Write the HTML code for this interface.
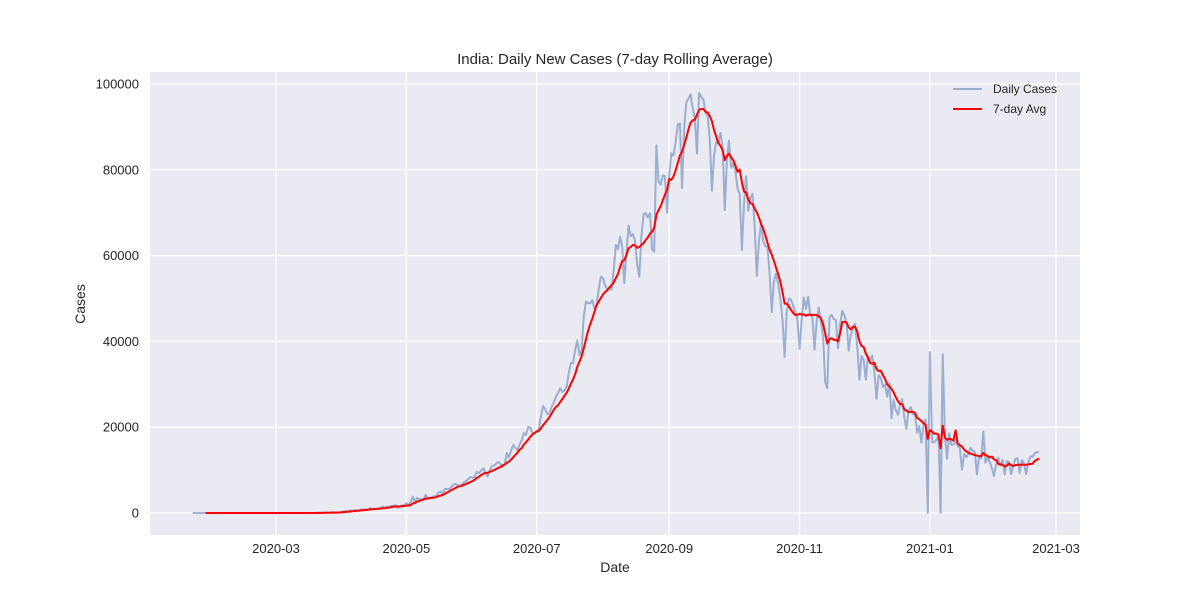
<!DOCTYPE html>
<html><head><meta charset="utf-8"><style>
body{margin:0;background:#fff;}
svg{display:block;font-family:"Liberation Sans","DejaVu Sans",sans-serif;}
</style></head><body>
<svg id="chart" width="1200" height="600">
<rect x="150" y="72" width="930" height="463" fill="#eaeaf2"/>
<g id="grid"></g><g id="series"></g><g id="ticks"></g>
<text x="615" y="64" text-anchor="middle" font-size="15" fill="#262626">India: Daily New Cases (7-day Rolling Average)</text>
<text x="615" y="572" text-anchor="middle" font-size="14" fill="#262626">Date</text>
<text x="85" y="304" text-anchor="middle" font-size="14" fill="#262626" transform="rotate(-90 85 304)">Cases</text>
<g>
<g><line x1="953" y1="89" x2="982" y2="89" stroke="#4c72b0" stroke-opacity="0.5" stroke-width="2"/><text x="993" y="93" font-size="12" fill="#262626">Daily Cases</text></g>
<g><line x1="953" y1="109" x2="982" y2="109" stroke="#ff0000" stroke-width="2"/><text x="993" y="113" font-size="12" fill="#262626">7-day Avg</text></g>
</g>
</svg>
<script>
const startDate = [2020, 0, 22];
const janFeb20 = new Array(39).fill(0);
const mar20 = [0,0,0,0,0,0,0,0,0,0,0,0,0,0,0,0,0,0,0.01,0.02,0.05,0.07,0.05,0.09,0.1,0.07,0.15,0.16,0.1,0.1,0.2];
const apr20 = [0.3,0.4,0.5,0.5,0.6,0.5,0.7,0.5,0.6,0.9,0.8,0.9,0.8,1.2,0.9,1.0,1.0,1.0,1.3,1.5,1.2,1.5,1.4,1.7,1.7,1.8,1.2,1.5,1.8,1.7];
const may20 = [2.3,1.9,2.5,3.8,2.6,3.5,3.3,3.2,3.1,4.2,3.6,3.5,3.7,3.9,3.9,4.8,5.0,4.6,5.6,5.6,5.6,6.0,6.6,6.8,6.5,6.4,6.6,7.2,7.4,8.0,8.4];
const jun20 = [8.2,8.4,9.6,9.3,9.9,10.4,9.5,8.5,9.9,10.9,11.1,11.5,11.9,11.5,10.7,11.4,14.0,12.9,14.5,15.9,15.2,14.7,15.9,17.0,18.6,18.2,20.1,19.9,18.6,18.5];
const jul20 = [19.1,19.5,22.7,24.9,24.2,23.0,23.2,24.8,25.7,27.1,28.0,29.1,28.2,28.5,29.4,32.7,35.0,34.9,38.0,40.2,36.8,37.9,45.6,49.3,48.9,48.9,49.6,47.7,48.5,52.1,55.1];
const aug20 = [54.7,53.0,52.1,52.5,52.0,56.3,62.5,61.5,64.4,62.1,53.6,61.0,67.0,64.5,65.0,63.5,57.9,55.1,64.5,69.7,69.9,68.9,69.9,61.4,60.9,85.7,77.3,76.5,78.7,78.5,70.0];
const sep20 = [78.4,83.9,83.3,86.4,90.6,90.8,75.8,89.7,95.7,96.6,97.6,94.4,92.1,83.8,97.9,97.0,96.4,93.3,92.6,86.9,75.1,83.3,86.5,86.1,88.6,85.4,70.6,82.2,86.8,80.5];
const oct20 = [81.5,79.5,75.6,74.4,61.3,72.0,78.5,70.5,73.3,74.4,66.7,55.3,63.5,67.7,63.4,62.2,61.9,55.7,46.8,54.0,55.8,53.4,50.1,45.1,36.4,46.7,50.0,49.8,48.3,46.9,45.2];
const nov20 = [38.3,45.2,50.2,47.6,50.4,46.2,45.6,38.1,44.9,47.9,44.7,41.2,30.5,29.1,45.6,46.2,45.2,45.0,38.4,44.2,47.1,46.0,44.5,37.8,41.5,43.0,44.1,38.7,31.1,36.6];
const dec20 = [35.6,31.1,36.6,35.6,36.7,32.9,26.6,32.1,31.5,29.4,30.0,27.1,30.3,22.1,26.4,24.0,22.9,25.2,26.6,22.3,19.6,23.9,24.7,23.0,23.0,18.7,20.3,16.4,20.5,21.8,0];
const jan21 = [37.5,16.5,16.5,17.0,18.1,0,37.0,18.1,12.6,18.6,15.9,15.9,16.9,15.6,15.2,10.1,13.8,13.0,13.8,15.2,14.5,14.3,9.0,13.2,12.7,19.0,11.7,13.1,11.8,10.5,8.6];
const feb21 = [11.4,12.9,11.0,12.4,9.0,12.1,11.8,9.1,11.1,12.6,12.8,9.3,12.3,11.6,9.1,11.6,13.2,13.1,13.9,14.2,14.2];
const yTicks = [0,20000,40000,60000,80000,100000];
const xTickLabels = ["2020-03","2020-05","2020-07","2020-09","2020-11","2021-01","2021-03"];

const NS = "http://www.w3.org/2000/svg";
const daily = [].concat(janFeb20,mar20,apr20,may20,jun20,jul20,aug20,sep20,oct20,nov20,dec20,jan21,feb21).map(v=>v*1000);
const DAY = 86400000;
const t0 = Date.UTC(startDate[0],startDate[1],startDate[2]);
const refT = Date.UTC(2020,2,1), refX = 276, pxPerDay = 780/365;
function xScale(t){ return refX + (t-refT)/DAY*pxPerDay; }
function yScale(v){ return 513 - v*0.00429; }
function mk(tag, attrs, parent){ const e=document.createElementNS(NS,tag); for(const k in attrs) e.setAttribute(k,attrs[k]); parent.appendChild(e); return e; }
const grid=document.getElementById('grid'), ticks=document.getElementById('ticks'), series=document.getElementById('series');
yTicks.forEach(v=>{
  const y=yScale(v);
  const l=mk('line',{x1:150,x2:1080,y1:y,y2:y,stroke:'#fff','stroke-width':1.2},grid);
  
  
  const t=mk('text',{x:139,y:y+4.5,'text-anchor':'end','font-size':13,fill:'#262626'},ticks);
  t.textContent=String(v);
  
  
});
xTickLabels.forEach(s=>{
  const [yy,mm]=s.split('-').map(Number);
  const x=xScale(Date.UTC(yy,mm-1,1));
  const l=mk('line',{x1:x,x2:x,y1:72,y2:535,stroke:'#fff','stroke-width':1.2},grid);
  
  
  const t=mk('text',{x:x,y:553,'text-anchor':'middle','font-size':13,fill:'#262626'},ticks);
  t.textContent=s;
  
  
});
const dPts = daily.map((v,i)=>xScale(t0+i*DAY).toFixed(1)+','+yScale(v).toFixed(1));
const dl=mk('polyline',{points:dPts.join(' '),fill:'none',stroke:'#4c72b0','stroke-opacity':0.5,'stroke-width':2,'stroke-linejoin':'round'},series);


const aPts=[];
for(let i=6;i<daily.length;i++){ let s=0; for(let j=i-6;j<=i;j++) s+=daily[j]; aPts.push(xScale(t0+i*DAY).toFixed(1)+','+yScale(s/7).toFixed(1)); }
const al=mk('polyline',{points:aPts.join(' '),fill:'none',stroke:'#ff0000','stroke-width':2,'stroke-linejoin':'round'},series);


</script>
</body></html>
